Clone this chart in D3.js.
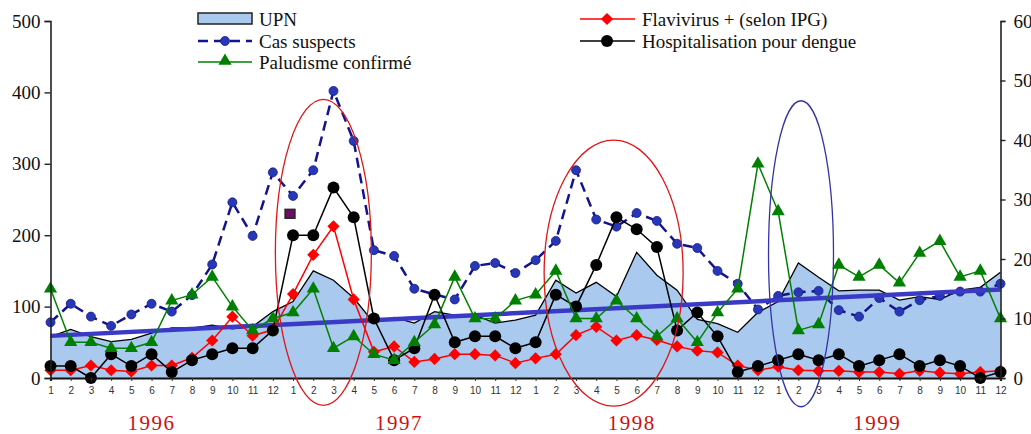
<!DOCTYPE html>
<html>
<head>
<meta charset="utf-8">
<script src="https://cdn.jsdelivr.net/npm/d3@7"></script>
<style>
  html, body { margin: 0; padding: 0; background: white; }
  svg { display: block; }
</style>
</head>
<body>
<svg width="1031" height="434"></svg>
<script>
// Data: 48 months, 1996 - 1999
const years = ["1996", "1997", "1998", "1999"]
const months = ["1","2","3","4","5","6","7","8","9","10","11","12"]

// left axis
const upn = [58, 68, 58, 51, 54, 63, 70, 70, 74, 69, 72, 93,
             107, 150, 137, 112, 77, 85, 77, 93, 88, 88, 77, 81,
             88, 137, 119, 134, 114, 176, 144, 123, 82, 76, 64, 92,
             107, 161, 141, 122, 123, 123, 109, 114, 110, 123, 127, 148]
const cas_suspects = [78, 104, 86, 73, 89, 104, 93, 116, 159, 246, 199, 288,
                      255, 291, 402, 332, 179, 171, 125, 117, 110, 157, 161, 147,
                      165, 192, 291, 222, 212, 231, 220, 188, 182, 150, 132, 96,
                      115, 120, 122, 95, 86, 112, 93, 109, 115, 121, 121, 132]
const trend = [59, 124]  // start / end of the straight trend line

// right axis
const flavivirus = [1.3, 1.3, 2.1, 1.3, 1.1, 2.1, 2.1, 3.4, 6.3, 10.3, 7.1, 8.1,
                    14.1, 20.7, 25.5, 13.2, 4.4, 5.3, 2.7, 3.2, 4.0, 4.0, 3.8, 2.5,
                    3.3, 4.0, 7.2, 8.6, 6.3, 7.2, 6.4, 5.3, 4.6, 4.3, 2.1, 1.3,
                    1.9, 1.3, 1.2, 1.2, 1.0, 1.0, 0.7, 1.2, 0.9, 0.7, 1.0, 1.2]
const hospitalisation = [2, 2, 0, 4, 2, 4, 1, 3, 4, 5, 5, 8,
                         24, 24, 32, 27, 10, 3, 5, 14, 6, 7, 7, 5,
                         6, 14, 12, 19, 27, 25, 22, 8, 11, 7, 1, 2,
                         3, 4, 3, 4, 2, 3, 4, 2, 3, 2, 0, 1]
const paludisme = [15, 6, 6, 5, 5, 6, 13, 14, 17, 12, 8, 10,
                   11, 15, 5, 7, 4, 3, 6, 9, 17, 10, 10, 13,
                   14, 18, 10, 10, 13, 10, 7, 10, 6, 11, 15, 36,
                   28, 8, 9, 19, 17, 19, 16, 21, 23, 17, 18, 10]

const left_ticks = [0, 100, 200, 300, 400, 500]
const right_ticks = [0, 10, 20, 30, 40, 50, 60]

const serif = "'Liberation Serif', 'Times New Roman', serif"
const sans = "'Liberation Sans', Arial, sans-serif"

const svg = d3.select("svg")

const idx = d3.range(48)
const x = d3.scalePoint().domain(idx).range([50.5, 1000.5])
const y_left = d3.scaleLinear().domain([0, 500]).range([378, 21])
const y_right = d3.scaleLinear().domain([0, 60]).range([378, 21])

const diamond = d3.symbol().type(d3.symbolDiamond2).size(95)
const triangle = d3.symbol().type(d3.symbolTriangle).size(75)

// UPN area
const area = d3.area()
    .x((d, i) => x(i))
    .y0(y_left(0))
    .y1(d => y_left(d))
svg.append("path")
    .datum(upn)
    .attr("d", area)
    .attr("fill", "#a9c9ef")
svg.append("path")
    .datum(upn)
    .attr("d", d3.line().x((d, i) => x(i)).y(d => y_left(d)))
    .attr("fill", "none")
    .attr("stroke", "black")
    .attr("stroke-width", 1.3)

// Cas suspects
svg.append("path")
    .datum(cas_suspects)
    .attr("d", d3.line().x((d, i) => x(i)).y(d => y_left(d)))
    .attr("fill", "none")
    .attr("stroke", "#13138f")
    .attr("stroke-width", 2.5)
    .attr("stroke-dasharray", "10,6")
svg.append("g").selectAll("circle")
    .data(cas_suspects)
    .enter()
    .append("circle")
    .attr("cx", (d, i) => x(i))
    .attr("cy", d => y_left(d))
    .attr("r", 4.5)
    .attr("fill", "#2638b8")
    .attr("stroke", "#1a1a80")
    .attr("stroke-width", 0.8)

// trend line
svg.append("line")
    .attr("x1", x(0)).attr("y1", y_left(trend[0]))
    .attr("x2", x(47)).attr("y2", y_left(trend[1]))
    .attr("stroke", "#3a3ac6")
    .attr("stroke-width", 4.5)

// Flavivirus
svg.append("path")
    .datum(flavivirus)
    .attr("d", d3.line().x((d, i) => x(i)).y(d => y_right(d)))
    .attr("fill", "none")
    .attr("stroke", "red")
    .attr("stroke-width", 1.5)
svg.append("g").selectAll("path")
    .data(flavivirus)
    .enter()
    .append("path")
    .attr("d", diamond)
    .attr("transform", (d, i) => `translate(${x(i)},${y_right(d)})`)
    .attr("fill", "red")

// Hospitalisation
svg.append("path")
    .datum(hospitalisation)
    .attr("d", d3.line().x((d, i) => x(i)).y(d => y_right(d)))
    .attr("fill", "none")
    .attr("stroke", "black")
    .attr("stroke-width", 1.5)
svg.append("g").selectAll("circle")
    .data(hospitalisation)
    .enter()
    .append("circle")
    .attr("cx", (d, i) => x(i))
    .attr("cy", d => y_right(d))
    .attr("r", 6)
    .attr("fill", "black")

// Paludisme
svg.append("path")
    .datum(paludisme)
    .attr("d", d3.line().x((d, i) => x(i)).y(d => y_right(d)))
    .attr("fill", "none")
    .attr("stroke", "#008000")
    .attr("stroke-width", 1.5)
svg.append("g").selectAll("path")
    .data(paludisme)
    .enter()
    .append("path")
    .attr("d", triangle)
    .attr("transform", (d, i) => `translate(${x(i)},${y_right(d)})`)
    .attr("fill", "#008000")

// Axes
const left_axis = svg.append("g")
    .attr("transform", `translate(${x(0)},0)`)
    .call(d3.axisLeft(y_left).tickValues(left_ticks).tickSize(6).tickPadding(4))
const right_axis = svg.append("g")
    .attr("transform", `translate(${x(47)},0)`)
    .call(d3.axisRight(y_right).tickValues(right_ticks).tickSize(5).tickPadding(8))
const bottom_axis = svg.append("g")
    .attr("transform", `translate(0,${y_left(0)})`)
    .call(d3.axisBottom(x).tickSize(3).tickPadding(6).tickFormat(i => months[i % 12]))

for (const ax of [left_axis, right_axis]) {
    ax.attr("font-family", serif)
    ax.select(".domain").attr("stroke", "#222").attr("stroke-width", 1.6)
    ax.selectAll(".tick line").attr("stroke", "#222").attr("stroke-width", 1.4)
    ax.selectAll("text")
        .attr("font-family", serif)
        .attr("font-size", "19px")
        .attr("fill", "#111")
}
bottom_axis.select(".domain").attr("stroke", "#111").attr("stroke-width", 2.2)
bottom_axis.selectAll(".tick line").attr("stroke", "#333")
bottom_axis.selectAll("text")
    .attr("font-family", sans)
    .attr("font-size", "10px")
    .attr("fill", "#333")

// year labels
const year_shift = [-10, -5, -15, -12]
svg.append("g").selectAll("text")
    .data(years)
    .enter()
    .append("text")
    .attr("x", (d, k) => x(12 * k + 5) + 10 + year_shift[k])
    .attr("y", 430)
    .attr("text-anchor", "middle")
    .attr("font-family", serif)
    .attr("font-size", "21px")
    .attr("letter-spacing", "1.5px")
    .attr("fill", "#d01010")
    .text(d => d)

// ellipses drawn round the epidemic peaks
const ellipses = [
    {i: 13.5, v: 176, rx: 48, ry: 153, color: "#e01515"},
    {i: 27.86, v: 147, rx: 69.5, ry: 133, color: "#e01515"},
    {i: 37.13, v: 174, rx: 32.5, ry: 153, color: "#3434a6"},
]
svg.append("g").selectAll("ellipse")
    .data(ellipses)
    .enter()
    .append("ellipse")
    .attr("cx", d => x(0) + d.i * x.step())
    .attr("cy", d => y_left(d.v))
    .attr("rx", d => d.rx)
    .attr("ry", d => d.ry)
    .attr("fill", "none")
    .attr("stroke", d => d.color)
    .attr("stroke-width", 1.3)

// small square marker
svg.append("rect")
    .attr("x", x(0) + 11.85 * x.step() - 5)
    .attr("y", y_left(230) - 4.5)
    .attr("width", 10)
    .attr("height", 9)
    .attr("fill", "#6b0f63")
    .attr("stroke", "#222")
    .attr("stroke-width", 1.3)

// Legend
const legend = svg.append("g")
function legendText(tx, ty, label) {
    legend.append("text")
        .attr("x", tx)
        .attr("y", ty)
        .attr("dy", "0.35em")
        .attr("font-family", serif)
        .attr("font-size", "19px")
        .attr("fill", "#111")
        .text(label)
}
legend.append("rect")
    .attr("x", 198).attr("y", 13).attr("width", 54).attr("height", 11)
    .attr("fill", "#a9c9ef").attr("stroke", "#222").attr("stroke-width", 1.5)
legendText(259, 19, "UPN")

legend.append("line")
    .attr("x1", 198).attr("x2", 252).attr("y1", 41).attr("y2", 41)
    .attr("stroke", "#13138f").attr("stroke-width", 2.5).attr("stroke-dasharray", "10,6")
legend.append("circle").attr("cx", 225).attr("cy", 41).attr("r", 4.5)
    .attr("fill", "#2638b8").attr("stroke", "#1a1a80").attr("stroke-width", 0.8)
legendText(259, 41, "Cas suspects")

legend.append("line")
    .attr("x1", 198).attr("x2", 252).attr("y1", 62).attr("y2", 62)
    .attr("stroke", "#008000").attr("stroke-width", 1.5)
legend.append("path")
    .attr("d", triangle)
    .attr("transform", "translate(225,61)")
    .attr("fill", "#008000")
legendText(259, 62, "Paludisme confirmé")

legend.append("line")
    .attr("x1", 580).attr("x2", 635).attr("y1", 19).attr("y2", 19)
    .attr("stroke", "red").attr("stroke-width", 1.5)
legend.append("path")
    .attr("d", diamond)
    .attr("transform", "translate(607,19)")
    .attr("fill", "red")
legendText(642, 19, "Flavivirus + (selon IPG)")

legend.append("line")
    .attr("x1", 580).attr("x2", 635).attr("y1", 41).attr("y2", 41)
    .attr("stroke", "black").attr("stroke-width", 1.5)
legend.append("circle").attr("cx", 607).attr("cy", 41).attr("r", 6).attr("fill", "black")
legendText(642, 41, "Hospitalisation pour dengue")
</script>
</body>
</html>
